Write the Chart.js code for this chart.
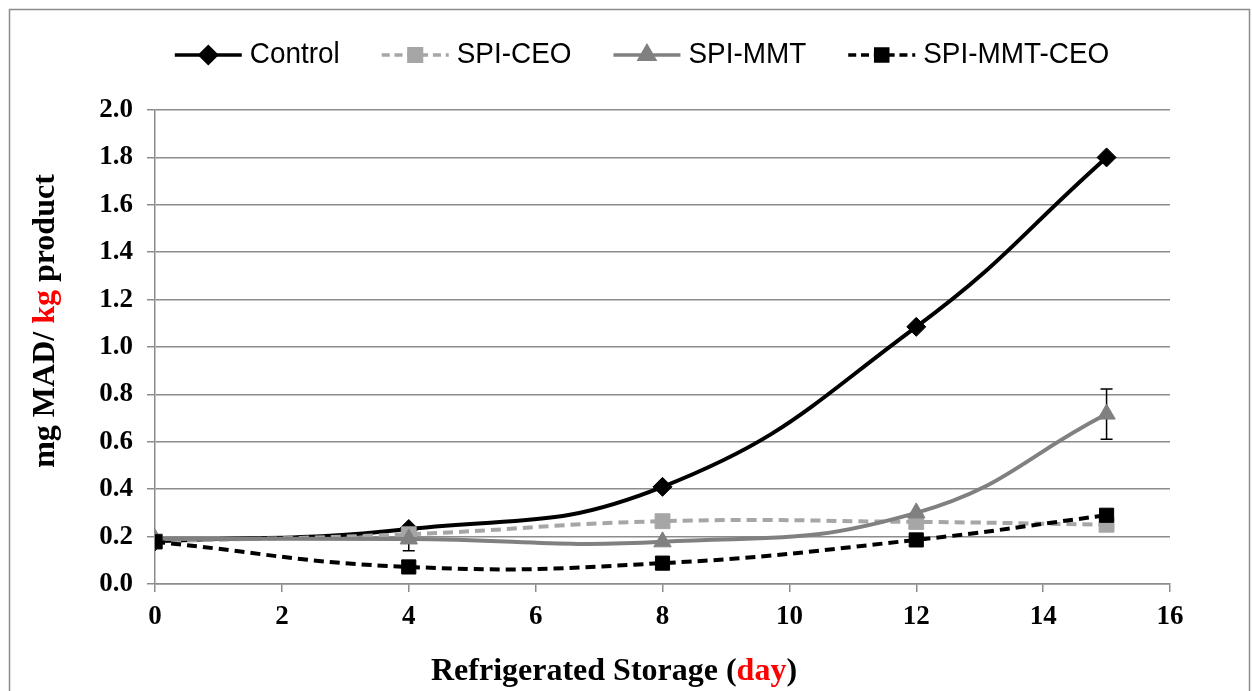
<!DOCTYPE html>
<html>
<head>
    <title>MAD chart</title>
    <script src="https://cdn.jsdelivr.net/npm/chart.js"></script>
    <style>
        body {
            margin: 0;
            padding: 0;
            background: #ffffff;
        }
        #wrap {
            width: 1252px;
            height: 691px;
            position: relative;
        }
    </style>
</head>
<body>
    <div id="wrap">
        <canvas id="chart"></canvas>
    </div>

    <script>
        const days = [0, 4, 8, 12, 15];
        const seriesNames = ['Control', 'SPI-CEO', 'SPI-MMT', 'SPI-MMT-CEO'];
        const control = [0.18, 0.232, 0.41, 1.085, 1.80];
        const spiCeo = [0.18, 0.21, 0.265, 0.262, 0.25];
        const spiMmt = [0.19, 0.19, 0.178, 0.30, 0.717];
        const spiMmtCeo = [0.178, 0.072, 0.088, 0.186, 0.29];
        const spiMmtErr = [0, 0.05, 0, 0, 0.106];
        const xTicks = [0, 2, 4, 6, 8, 10, 12, 14, 16];
        const yTicks = [0, 0.2, 0.4, 0.6, 0.8, 1.0, 1.2, 1.4, 1.6, 1.8, 2.0];

        const styles = [
            { color: '#000000', marker: 'rectRot', radius: 9.5, dash: [] },
            { color: '#a6a6a6', marker: 'rect', radius: 10.5, dash: [10, 6] },
            { color: '#808080', marker: 'triangle', radius: 10, dash: [] },
            { color: '#000000', marker: 'rect', radius: 10, dash: [10, 6] }
        ];
        const values = [control, spiCeo, spiMmt, spiMmtCeo];
        const errors = [null, null, spiMmtErr, null];

        const datasets = values.map((vals, i) => ({
            label: seriesNames[i],
            data: days.map((d, j) => ({ x: d, y: vals[j] })),
            borderColor: styles[i].color,
            backgroundColor: styles[i].color,
            borderWidth: 4,
            borderDash: styles[i].dash,
            pointStyle: styles[i].marker,
            pointRadius: styles[i].radius,
            pointBorderWidth: 1,
            pointBorderColor: styles[i].color,
            pointBackgroundColor: styles[i].color,
            tension: 0.45,
            order: 4 - i,
            errors: errors[i]
        }));

        // frame, titles and legend
        const decor = {
            id: 'decor',
            beforeDraw(chart) {
                const ctx = chart.ctx;
                ctx.save();
                ctx.fillStyle = '#ffffff';
                ctx.fillRect(0, 0, chart.width, chart.height);
                ctx.strokeStyle = '#8c8c8c';
                ctx.lineWidth = 1.5;
                ctx.strokeRect(9.5, 9.5, 1240, 720);
                ctx.restore();
            },
            beforeDatasetsDraw(chart) {
                const ctx = chart.ctx;
                const xs = chart.scales.x, ys = chart.scales.y;
                ctx.save();
                ctx.strokeStyle = '#000000';
                ctx.lineWidth = 1.5;
                chart.data.datasets.forEach(ds => {
                    if (!ds.errors) return;
                    ds.data.forEach((p, j) => {
                        const e = ds.errors[j];
                        if (!e) return;
                        const px = xs.getPixelForValue(p.x);
                        const top = ys.getPixelForValue(p.y + e);
                        const bot = ys.getPixelForValue(p.y - e);
                        ctx.beginPath();
                        ctx.moveTo(px, top); ctx.lineTo(px, bot);
                        ctx.moveTo(px - 6, top); ctx.lineTo(px + 6, top);
                        ctx.moveTo(px - 6, bot); ctx.lineTo(px + 6, bot);
                        ctx.stroke();
                    });
                });
                ctx.restore();
            },
            afterDraw(chart) {
                const ctx = chart.ctx;
                ctx.save();
                ctx.textBaseline = 'middle';

                // x title
                ctx.font = 'bold 32px "Liberation Serif", "Times New Roman", serif';
                drawParts(ctx, [['Refrigerated Storage (', '#000'], ['day', '#ff0000'], [')', '#000']], 614, 672);

                // y title
                ctx.save();
                ctx.translate(46, 321);
                ctx.rotate(-Math.PI / 2);
                drawParts(ctx, [['mg MAD/ ', '#000'], ['kg', '#ff0000'], [' product', '#000']], 0, 0);
                ctx.restore();

                // legend (text slightly condensed, like the original)
                ctx.font = '30px "Liberation Sans", Arial, sans-serif';
                const sx = 0.93;
                const lineLen = 67, gap = 8, itemGap = 42;
                const widths = seriesNames.map(n => ctx.measureText(n).width * sx);
                const total = widths.reduce((a, w) => a + lineLen + gap + w, 0) + itemGap * (seriesNames.length - 1);
                let x = 642 - total / 2;
                const y = 55;
                chart.data.datasets.forEach((ds, i) => {
                    ctx.save();
                    ctx.strokeStyle = ds.borderColor;
                    ctx.lineWidth = 3.5;
                    ctx.setLineDash(ds.borderDash.map(v => v * 0.8));
                    ctx.beginPath();
                    ctx.moveTo(x, y);
                    ctx.lineTo(x + lineLen, y);
                    ctx.stroke();
                    ctx.setLineDash([]);
                    ctx.fillStyle = ds.backgroundColor;
                    Chart.helpers.drawPoint(ctx, {
                        pointStyle: ds.pointStyle,
                        radius: ds.pointRadius * 0.85,
                        borderWidth: 1,
                        rotation: 0
                    }, x + lineLen / 2, y);
                    ctx.restore();
                    ctx.save();
                    ctx.translate(x + lineLen + gap, y);
                    ctx.scale(sx, 1);
                    ctx.fillStyle = '#000000';
                    ctx.textAlign = 'left';
                    ctx.fillText(seriesNames[i], 0, 0);
                    ctx.restore();
                    x += lineLen + gap + widths[i] + itemGap;
                });
                ctx.restore();
            }
        };

        function drawParts(ctx, parts, cx, cy) {
            const total = parts.reduce((a, p) => a + ctx.measureText(p[0]).width, 0);
            let x = cx - total / 2;
            ctx.textAlign = 'left';
            parts.forEach(p => {
                ctx.fillStyle = p[1];
                ctx.fillText(p[0], x, cy);
                x += ctx.measureText(p[0]).width;
            });
        }

        const tickFont = { family: '"Liberation Serif", "Times New Roman", serif', size: 27, weight: 'bold' };

        new Chart(document.getElementById('chart'), {
            type: 'line',
            data: { datasets: datasets },
            options: {
                responsive: true,
                maintainAspectRatio: false,
                animation: false,
                layout: { padding: { left: 0, top: 110, right: 82, bottom: 0 } },
                plugins: {
                    legend: { display: false },
                    tooltip: { enabled: false }
                },
                scales: {
                    x: {
                        type: 'linear',
                        min: 0,
                        max: 16,
                        afterFit: s => { s.height = 107; },
                        afterBuildTicks: s => { s.ticks = xTicks.map(v => ({ value: v })); },
                        grid: { drawOnChartArea: false, drawTicks: true, tickLength: 8, color: '#8c8c8c', lineWidth: 1.5 },
                        border: { color: '#8c8c8c', width: 1.5 },
                        ticks: { color: '#000', font: tickFont, padding: 9, maxRotation: 0 }
                    },
                    y: {
                        min: 0,
                        max: 2,
                        afterFit: s => { s.width = 155; },
                        afterBuildTicks: s => { s.ticks = yTicks.map(v => ({ value: v })); },
                        grid: { color: '#8c8c8c', lineWidth: 1.5, tickLength: 8 },
                        border: { color: '#8c8c8c', width: 1.5 },
                        ticks: {
                            color: '#000',
                            font: tickFont,
                            padding: 14,
                            callback: v => v.toFixed(1)
                        }
                    }
                }
            },
            plugins: [decor]
        });
    </script>
</body>
</html>
